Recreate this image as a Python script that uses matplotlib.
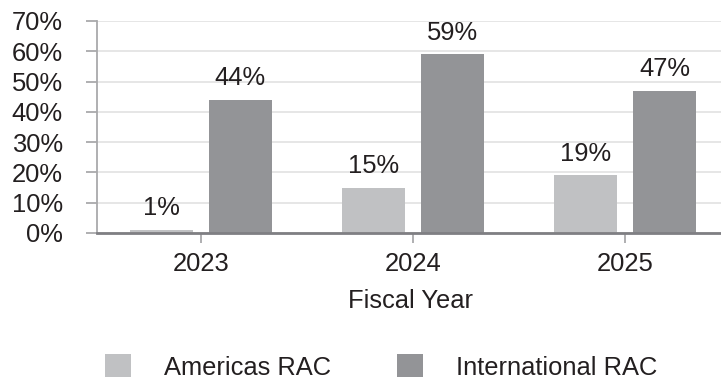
import matplotlib
matplotlib.use("Agg")
import matplotlib.pyplot as plt
from matplotlib.patches import Patch
import numpy as np

# Data
years = ["2023", "2024", "2025"]
americas = [1, 15, 19]
international = [44, 59, 47]
series_names = ["Americas RAC", "International RAC"]
y_ticks = [0, 10, 20, 30, 40, 50, 60, 70]
y_tick_labels = ["0%", "10%", "20%", "30%", "40%", "50%", "60%", "70%"]
x_label = "Fiscal Year"

# Styling
C_AM = "#c0c1c3"
C_INT = "#939497"
TXT = "#231f20"
FS = 18.4

plt.rcParams["font.family"] = ["Liberation Sans", "DejaVu Sans"]

W, H, DPI = 721, 381, 100
fig = plt.figure(figsize=(W / DPI, H / DPI), dpi=DPI)

# Axes placement in pixels
left_px, right_px, top_px, bottom_px = 97, 731, 21, 233
ax = fig.add_axes([left_px / W, (H - bottom_px) / H,
                   (right_px - left_px) / W, (bottom_px - top_px) / H])

x = np.arange(len(years))
bw = 0.297
off = 0.186
b1 = ax.bar(x - off, americas, bw, color=C_AM, zorder=3)
b2 = ax.bar(x + off, international, bw, color=C_INT, zorder=3)

for bars, vals in ((b1, americas), (b2, international)):
    for rect, v in zip(bars, vals):
        ax.annotate(f"{v}%", (rect.get_x() + rect.get_width() / 2, v),
                    xytext=(0, 10.5), textcoords="offset points",
                    ha="center", va="baseline", fontsize=FS, color=TXT)

ax.set_xlim(-0.49, 2.5)
ax.set_ylim(0, 70)
ax.set_yticks(y_ticks)
ax.set_yticklabels(y_tick_labels)
ax.set_xticks(x)
ax.set_xticklabels(years)

ax.grid(axis="y", color="#e6e6e6", linewidth=1.4, zorder=0)
ax.set_axisbelow(True)

for s in ("top", "right"):
    ax.spines[s].set_visible(False)
ax.spines["left"].set_color("#a9a9ab")
ax.spines["left"].set_linewidth(1.3)
ax.spines["bottom"].set_color("#7f7f83")
ax.spines["bottom"].set_linewidth(2.0)
ax.spines["bottom"].set_zorder(4)

ax.tick_params(axis="y", length=8, width=1.3, color="#a9a9ab",
               pad=16.5, labelsize=FS, labelcolor=TXT)
ax.tick_params(axis="x", length=7.5, width=1.3, color="#a9a9ab",
               pad=6.5, labelsize=FS, labelcolor=TXT)

fig.text(411 / W, (H - 308) / H, x_label, ha="center", va="baseline",
         fontsize=FS, color=TXT)

handles = [Patch(facecolor=C_AM, edgecolor="none"),
           Patch(facecolor=C_INT, edgecolor="none")]
fig.legend(handles, series_names, loc="center left",
           bbox_to_anchor=(105 / W, (H - 367) / H), ncol=2, frameon=False,
           fontsize=FS, labelcolor=TXT, handlelength=1.0, handleheight=1.0,
           handletextpad=1.3, columnspacing=2.6, borderpad=0,
           borderaxespad=0)

fig.savefig("out.png", dpi=DPI)
